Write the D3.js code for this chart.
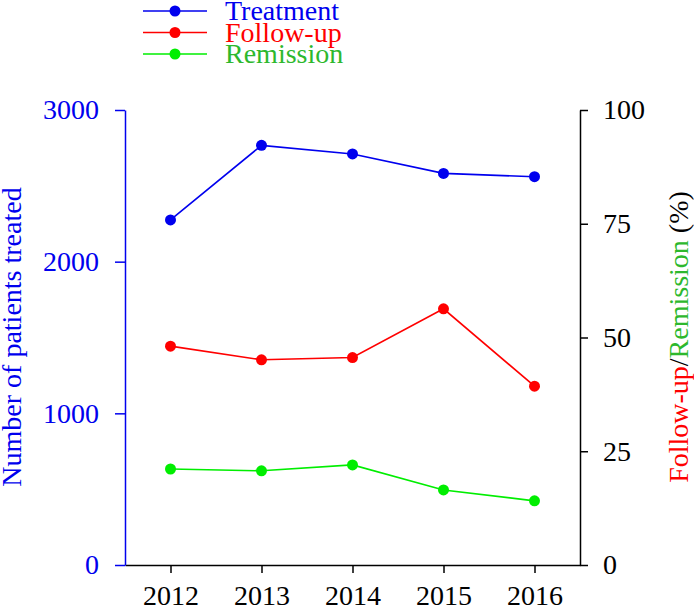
<!DOCTYPE html>
<html>
<head>
<meta charset="utf-8">
<script src="https://cdn.jsdelivr.net/npm/d3@7"></script>
<style>
  html, body { margin: 0; padding: 0; background: #fff; }
</style>
</head>
<body>
<svg id="chart" width="694" height="612"></svg>
<script>
const years = [2012, 2013, 2014, 2015, 2016];
const treatment = [2275, 2767, 2710, 2582, 2560];
const followUp = [48.1, 45.1, 45.6, 56.3, 39.3];
const remission = [21.1, 20.7, 22.0, 16.5, 14.1];
const leftTicks = [0, 1000, 2000, 3000];
const rightTicks = [0, 25, 50, 75, 100];
const seriesNames = ["Treatment", "Follow-up", "Remission"];

const BLUE = "#0000ee", RED = "#ff0000", GREEN = "#00ee00", GREEN_TXT = "#2db82d";
const FS = 28;
const FONT = '"Liberation Serif"';

const svg = d3.select("#chart");
const x = d3.scaleLinear().domain([2011.5, 2016.5]).range([125, 580]);
const yL = d3.scaleLinear().domain([0, 3000]).range([565, 110]);
const yR = d3.scaleLinear().domain([0, 100]).range([565, 110]);

// X axis
const gx = svg.append("g").attr("transform", "translate(0,565)")
  .call(d3.axisBottom(x).tickValues(years).tickFormat(d3.format("d")).tickSize(8).tickSizeOuter(0).tickPadding(12));
gx.select(".domain").attr("stroke", "#000").attr("stroke-width", 1.5);
gx.selectAll(".tick line").attr("stroke", "#000").attr("stroke-width", 1.5);
gx.selectAll(".tick text").attr("font-size", FS).style("font-family", FONT).attr("fill", "#000");

// Left axis
const gl = svg.append("g").attr("transform", "translate(125,0)")
  .call(d3.axisLeft(yL).tickValues(leftTicks).tickFormat(d3.format("d")).tickSize(10).tickSizeOuter(0).tickPadding(16));
gl.select(".domain").attr("stroke", BLUE).attr("stroke-width", 1.5);
gl.selectAll(".tick line").attr("stroke", BLUE).attr("stroke-width", 1.5);
gl.selectAll(".tick text").attr("font-size", FS).style("font-family", FONT).attr("fill", BLUE);

// Right axis
const gr = svg.append("g").attr("transform", "translate(580,0)")
  .call(d3.axisRight(yR).tickValues(rightTicks).tickFormat(d3.format("d")).tickSize(8).tickSizeOuter(0).tickPadding(15));
gr.select(".domain").attr("stroke", "#000").attr("stroke-width", 1.5);
gr.selectAll(".tick line").attr("stroke", "#000").attr("stroke-width", 1.5);
gr.selectAll(".tick text").attr("font-size", FS).style("font-family", FONT).attr("fill", "#000");

// Axis titles
svg.append("text")
  .attr("transform", "translate(21,337) rotate(-90)")
  .attr("text-anchor", "middle")
  .attr("font-size", FS).style("font-family", FONT).attr("fill", BLUE)
  .text("Number of patients treated");

const rt = svg.append("text")
  .attr("transform", "translate(688,337) rotate(-90)")
  .attr("text-anchor", "middle")
  .attr("font-size", FS).style("font-family", FONT);
rt.append("tspan").attr("fill", RED).text("Follow-up");
rt.append("tspan").attr("fill", "#000").text("/");
rt.append("tspan").attr("fill", GREEN_TXT).text("Remission");
rt.append("tspan").attr("fill", "#000").text(" (%)");

// Series
const series = [
  { name: seriesNames[0], values: treatment, y: yL, color: BLUE },
  { name: seriesNames[1], values: followUp, y: yR, color: RED },
  { name: seriesNames[2], values: remission, y: yR, color: GREEN }
];

series.forEach(s => {
  const line = d3.line().x((d, i) => x(years[i])).y(d => s.y(d));
  svg.append("path").datum(s.values)
    .attr("d", line).attr("fill", "none")
    .attr("stroke", s.color).attr("stroke-width", 1.6);
  svg.append("g").selectAll("circle").data(s.values).join("circle")
    .attr("cx", (d, i) => x(years[i])).attr("cy", d => s.y(d))
    .attr("r", 5.5).attr("fill", s.color);
});

// Legend
const legendY = [11, 32.5, 54];
const legendTxt = [BLUE, RED, GREEN_TXT];
series.forEach((s, i) => {
  const g = svg.append("g").attr("transform", `translate(0,${legendY[i]})`);
  g.append("line").attr("x1", 143).attr("x2", 207).attr("y1", 0).attr("y2", 0)
    .attr("stroke", s.color).attr("stroke-width", 1.6);
  g.append("circle").attr("cx", 175).attr("cy", 0).attr("r", 5.5).attr("fill", s.color);
  g.append("text").attr("x", 225).attr("y", 9).attr("font-size", FS).style("font-family", FONT)
    .attr("fill", legendTxt[i]).text(s.name);
});
</script>
</body>
</html>
